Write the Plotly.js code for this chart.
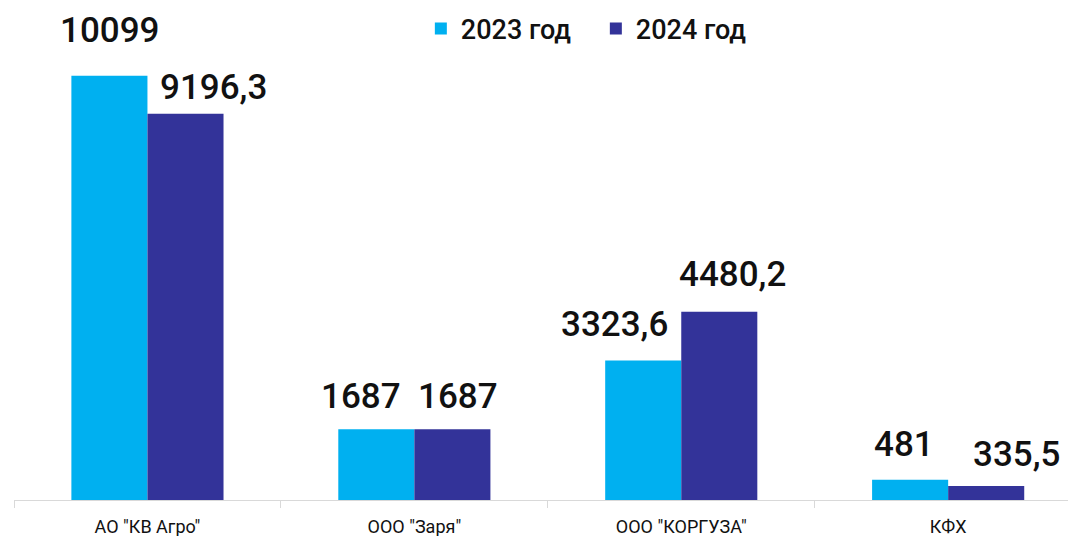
<!DOCTYPE html>
<html>
<head>
<meta charset="utf-8">
<script src="https://cdn.plot.ly/plotly-3.0.1.min.js"></script>
<style>html,body{margin:0;padding:0;background:#fff;}#chart{width:1068px;height:536px;}</style>
</head>
<body>
<div id="chart"></div>
<script>
// ---- data ----
var categories = ['АО "КВ Агро"', 'ООО "Заря"', 'ООО "КОРГУЗА"', 'КФХ'];
var seriesNames = ['2023 год', '2024 год'];
var values2023 = [10099, 1687, 3323.6, 481];
var values2024 = [9196.3, 1687, 4480.2, 335.5];

// ---- style / label placement (pixels) ----
var colors = ['#00B0F0', '#333399'];
var labelShift2023 = [[0, 45], [-15, 33], [-29, 36], [-6, 35]];
var labelShift2024 = [[28, 26], [6, 33], [13, 37], [30, 31]];

function fmt(v) { return String(v).replace('.', ','); }

var seriesValues = [values2023, values2024];
var shifts = [labelShift2023, labelShift2024];

var traces = seriesValues.map(function (vals, i) {
  return {
    type: 'bar',
    name: seriesNames[i],
    x: categories,
    y: vals,
    marker: { color: colors[i], line: { width: 0 } },
    hoverinfo: 'none'
  };
});

var barHalf = 0.57 / 4; // offset of each bar's center from category center
var annotations = [];
seriesValues.forEach(function (vals, i) {
  vals.forEach(function (v, j) {
    annotations.push({
      x: j + (i === 0 ? -barHalf : barHalf),
      y: v,
      xref: 'x', yref: 'y',
      text: fmt(v),
      showarrow: false,
      xanchor: 'center', yanchor: 'middle',
      xshift: shifts[i][j][0],
      yshift: shifts[i][j][1],
      font: { family: 'Roboto, "Noto Sans", sans-serif', size: 35, weight: 500, color: '#111' }
    });
  });
});

var layout = {
  width: 1068, height: 536,
  margin: { l: 13.5, r: 0, t: 50, b: 36, pad: 0 },
  paper_bgcolor: '#fff', plot_bgcolor: '#fff',
  barmode: 'group',
  bargap: 0.43, bargroupgap: 0,
  showlegend: true,
  legend: {
    orientation: 'h',
    x: 0.386, xanchor: 'left',
    y: 1.047, yanchor: 'middle',
    entrywidth: 130, entrywidthmode: 'pixels',
    font: { family: 'Roboto, "Noto Sans", sans-serif', size: 27, weight: 500, color: '#111' },
    bgcolor: 'rgba(0,0,0,0)'
  },
  xaxis: {
    type: 'category',
    range: [-0.5, 3.449],
    showline: true, linecolor: '#d9d9d9', linewidth: 1,
    ticks: 'outside', tickson: 'boundaries', ticklen: 7, tickcolor: '#d9d9d9', tickwidth: 1,
    ticklabelstandoff: 10,
    showgrid: false, zeroline: false,
    tickfont: { family: 'Roboto, "Noto Sans", sans-serif', size: 18, color: '#111' },
    fixedrange: true
  },
  yaxis: {
    range: [0, 10714],
    visible: false,
    showgrid: false, zeroline: false,
    fixedrange: true
  },
  annotations: annotations
};

Plotly.newPlot('chart', traces, layout, { staticPlot: true, displayModeBar: false });
</script>
</body>
</html>
